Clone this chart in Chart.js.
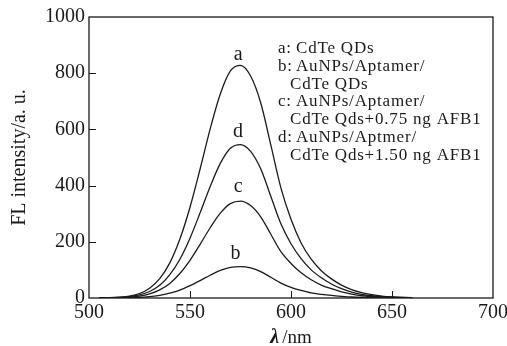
<!DOCTYPE html>
<html><head><meta charset="utf-8">
<script src="https://cdn.jsdelivr.net/npm/chart.js@4.4.0/dist/chart.umd.min.js"></script>
<style>html,body{margin:0;padding:0;background:#fff}#wrap{width:507px;height:346px;position:relative}</style>
</head><body><div id="wrap"><canvas id="c" width="507" height="346"></canvas></div>
<script>
// ---- data ----
const wavelengths = [505,510,515,520,525,530,535,540,545,550,555,560,565,570,575,580,585,590,595,600,605,610,615,620,625,630,635,640,645,650,655,660];
const seriesA = [0,1,3,7,16,35,69,125,210,323,459,602,726,808,828,790,695,545,392,280,196,138,97,68,46,30,19,12,7,4,2,1];
const seriesB = [0,0,0.4,1,2,5,9,17,28,44,62,81,98,109,112,107,94,74,53,38,27,18,13,9,6,3.5,2,1.3,0.8,0.5,0.3,0.1];
const seriesC = [0,0.5,1,3,7,15,29,52,87,134,191,250,302,336,345,329,289,227,165,123,90,65,46,33,22,14,8,5,3,2,1,0.5];
const seriesD = [0,1,2,5,11,23,45,83,138,213,303,397,479,533,546,522,460,362,264,193,140,100,72,50,33,21,13,8,5,3,2,1];
const curveNames = ['a','b','c','d'];
const curveLabelX = [573.8,572.5,573.8,573.8];
const curveLabelY = [847,139,377,573];
const legendLines = [
  ['a:','CdTe QDs'],
  ['b:','AuNPs/Aptamer/'],
  ['','CdTe QDs'],
  ['c:','AuNPs/Aptamer/'],
  ['','CdTe Qds+0.75 ng AFB1'],
  ['d:','AuNPs/Aptmer/'],
  ['','CdTe Qds+1.50 ng AFB1']
];
const xTickValues = [500,550,600,650,700];
const yTickValues = [0,200,400,600,800,1000];
const xTitle = 'λ/nm';
const yTitle = 'FL intensity/a. u.';

const SERIF = '"Liberation Serif", "DejaVu Serif", serif';
const INK = '#1a1a1a';

function pts(ys){ return wavelengths.map((x,i)=>({x:x,y:ys[i]})); }
const allSeries = [seriesA, seriesB, seriesC, seriesD];

const decor = {
  id:'decor',
  afterDraw(chart){
    const ctx = chart.ctx, a = chart.chartArea;
    const xs = chart.scales.x, ys = chart.scales.y;
    ctx.save();
    // frame
    ctx.strokeStyle = INK; ctx.lineWidth = 1.3;
    ctx.strokeRect(a.left, a.top, a.right - a.left, a.bottom - a.top);
    // inner tick marks
    ctx.lineWidth = 1;
    ctx.beginPath();
    xTickValues.slice(1,-1).forEach(v=>{
      const px = Math.round(xs.getPixelForValue(v))+0.5;
      ctx.moveTo(px, a.bottom); ctx.lineTo(px, a.bottom-7);
    });
    yTickValues.slice(1,-1).forEach(v=>{
      const py = Math.round(ys.getPixelForValue(v))+0.5;
      ctx.moveTo(a.left, py); ctx.lineTo(a.left+7, py);
    });
    ctx.stroke();
    // curve letters
    ctx.fillStyle = INK;
    ctx.font = '20px ' + SERIF;
    ctx.textAlign = 'center'; ctx.textBaseline = 'alphabetic';
    curveNames.forEach((n,i)=>{
      ctx.fillText(n, xs.getPixelForValue(curveLabelX[i]), ys.getPixelForValue(curveLabelY[i]));
    });
    // legend text block
    ctx.font = '17px ' + SERIF;
    ctx.textAlign = 'left';
    try { ctx.letterSpacing = '0.8px'; } catch(e) {}
    legendLines.forEach((ln,i)=>{
      const y = 53 + i*17.8;
      if (ln[0]) {
        ctx.fillText(ln[0], 278, y);
        ctx.fillText(ln[1], 296, y);
      } else {
        ctx.fillText(ln[1], 290, y);
      }
    });
    try { ctx.letterSpacing = '0px'; } catch(e) {}
    // x title with italic lambda
    ctx.font = 'italic bold 20px ' + SERIF;
    ctx.textAlign = 'left';
    const lam = xTitle.charAt(0), rest = xTitle.slice(1);
    const w1 = ctx.measureText(lam).width;
    ctx.font = '19px ' + SERIF;
    const w2 = ctx.measureText(rest).width;
    const cx = (a.left + a.right)/2 - (w1 + w2 + 3)/2;
    ctx.font = 'italic bold 20px ' + SERIF;
    ctx.fillText(lam, cx, 343);
    ctx.font = '19px ' + SERIF;
    ctx.fillText(rest, cx + w1 + 3, 343);
    ctx.restore();
  }
};

new Chart(document.getElementById('c'), {
  type:'line',
  data:{
    datasets: allSeries.map((s,i)=>({
      label: curveNames[i],
      data: pts(s),
      borderColor: INK,
      borderWidth: 1.3,
      pointRadius: 0,
      fill: false,
      cubicInterpolationMode: 'monotone'
    }))
  },
  options:{
    responsive:false,
    animation:false,
    events:[],
    layout:{padding:{left:0, top:17, right:14, bottom:0}},
    plugins:{legend:{display:false}, tooltip:{enabled:false}},
    scales:{
      x:{
        type:'linear', min:500, max:700,
        afterBuildTicks(s){ s.ticks = xTickValues.map(v=>({value:v})); },
        afterFit(s){ s.height = 48; s.paddingLeft = 0; s.paddingRight = 0; },
        grid:{display:false, drawTicks:false},
        border:{display:false},
        ticks:{color:INK, padding:3, font:{family:SERIF, size:20}, maxRotation:0, autoSkip:false, callback:(v)=>String(v)},
        title:{display:false}
      },
      y:{
        type:'linear', min:0, max:1000,
        afterBuildTicks(s){ s.ticks = yTickValues.map(v=>({value:v})); },
        afterFit(s){ s.width = 89; s.paddingTop = 0; s.paddingBottom = 0; },
        grid:{display:false, drawTicks:false},
        border:{display:false},
        ticks:{color:INK, padding:4, font:{family:SERIF, size:20}, callback:(v)=>String(v)},
        title:{display:true, text:yTitle, color:INK, font:{family:SERIF, size:20}, padding:{top:8,bottom:0}}
      }
    }
  },
  plugins:[decor]
});
</script></body></html>
